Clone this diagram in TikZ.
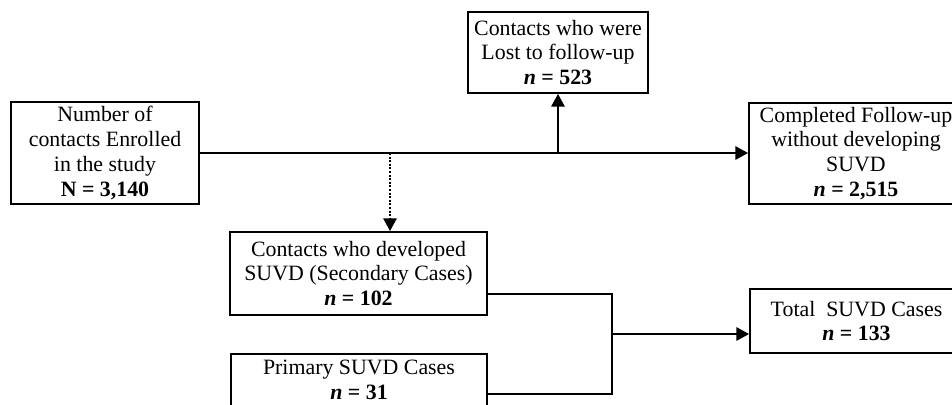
\documentclass[tikz,border=0pt]{standalone}
\usepackage{fontspec}
\setmainfont{Liberation Serif}
\usetikzlibrary{arrows.meta}

\begin{document}
\begin{tikzpicture}[x=0.75pt, y=-0.75pt,
  box/.style={draw, line width=1.4pt, inner sep=0pt, align=center,
    font=\fontsize{16.4}{18.6}\selectfont},
  link/.style={line width=1.4pt},
  thinlink/.style={line width=1pt},
  tip/.style={-{Triangle[length=9.5pt, width=10pt]}}
]
% page frame
\useasboundingbox (0,0) rectangle (952,404);
\fill[white] (0,0) rectangle (952,404);
\clip (0,0) rectangle (952,404);

% boxes
\node[box, minimum width=188*0.75pt, minimum height=102*0.75pt] (enrol) at (105,153)
  {Number of\\contacts Enrolled\\in the study\\\textbf{N = 3,140}};
\node[box, minimum width=180*0.75pt, minimum height=81*0.75pt] (lost) at (558,52.5)
  {Contacts who were\\Lost to follow-up\\\textbf{\textit{n} = 523}};
\node[box, minimum width=214*0.75pt, minimum height=101*0.75pt] (done) at (856,153.5)
  {Completed Follow-up\\without developing\\SUVD\\\textbf{\textit{n} = 2,515}};
\node[box, minimum width=257*0.75pt, minimum height=83*0.75pt] (second) at (358.5,273.5)
  {Contacts who developed\\SUVD (Secondary Cases)\\\textbf{\textit{n} = 102}};
\node[box, minimum width=256*0.75pt, minimum height=52*0.75pt] (primary) at (359,380)
  {Primary SUVD Cases\\\textbf{\textit{n} = 31}};
\node[box, minimum width=213*0.75pt, minimum height=64*0.75pt] (total) at (856.5,321)
  {Total\ \ SUVD Cases\\\textbf{\textit{n} = 133}};

% junction points
\coordinate (split) at (390,153);
\coordinate (jt) at (612,294);
\coordinate (jb) at (612,394);
\coordinate (jm) at (612,334);

% main flow
\draw[link, tip] (enrol.east) -- (enrol.east -| done.west);
\draw[link, tip] (lost.south |- enrol.east) -- (lost.south);
\draw[line width=1.1pt, dash pattern=on 1.5pt off 1.2pt, tip] (split) -- (split |- second.north);

% merging secondary and primary cases
\draw[thinlink] (jt -| second.east) -- (jt) -- (jb) -- (jb -| primary.east);
\draw[link, tip] (jm) -- (jm -| total.west);
\end{tikzpicture}
\end{document}
